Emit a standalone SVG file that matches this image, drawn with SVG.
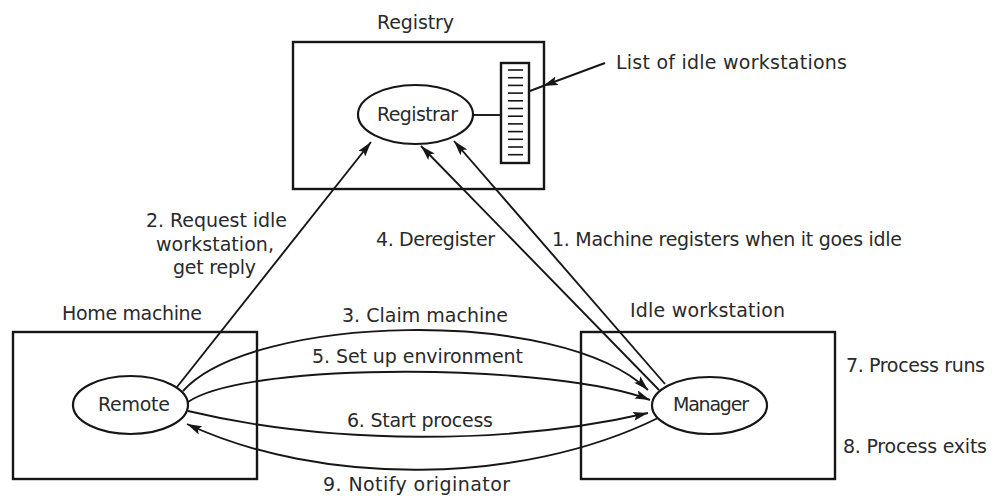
<svg xmlns="http://www.w3.org/2000/svg" width="994" height="496" viewBox="0 0 994 496">
  <defs>
    <style>
      .box { fill: none; stroke: #161616; stroke-width: 2.4; }
      .node { fill: #fff; stroke: #161616; stroke-width: 2.2; }
      .edge { fill: none; stroke: #161616; stroke-width: 1.9; }
      .rule { stroke: #161616; stroke-width: 1.6; }
      text { font-family: "DejaVu Sans", "Liberation Sans", sans-serif; font-size: 19px; fill: #2a2a2a; }
    </style>
    <marker id="head" markerUnits="userSpaceOnUse" viewBox="0 0 15 9" markerWidth="15" markerHeight="9" refX="15" refY="4.5" orient="auto">
      <path d="M0,0 L15,4.5 L0,9 L3,4.5 z" fill="#161616"/>
    </marker>
  </defs>
  <rect width="994" height="496" fill="#fff"/>

  <!-- Registry machine with the registrar process and its idle list -->
  <g id="registry">
    <rect class="box" x="293" y="42" width="251" height="147"/>
    <text x="377" y="29" textLength="77">Registry</text>
  </g>
  <g id="idle-list">
    <rect class="box" x="501" y="63" width="28" height="100"/>
    <g class="rule">
      <line x1="508" y1="70" x2="523" y2="70"/>
      <line x1="508" y1="77.7" x2="523" y2="77.7"/>
      <line x1="508" y1="85.4" x2="523" y2="85.4"/>
      <line x1="508" y1="93.1" x2="523" y2="93.1"/>
      <line x1="508" y1="100.8" x2="523" y2="100.8"/>
      <line x1="508" y1="108.5" x2="523" y2="108.5"/>
      <line x1="508" y1="116.2" x2="523" y2="116.2"/>
      <line x1="508" y1="123.9" x2="523" y2="123.9"/>
      <line x1="508" y1="131.6" x2="523" y2="131.6"/>
      <line x1="508" y1="139.3" x2="523" y2="139.3"/>
      <line x1="508" y1="147" x2="523" y2="147"/>
      <line x1="508" y1="154.7" x2="523" y2="154.7"/>
    </g>
    <text x="616" y="69" textLength="231">List of idle workstations</text>
  </g>
  <g id="registrar">
    <ellipse class="node" cx="415.5" cy="114.5" rx="57.5" ry="29.5"/>
    <text x="377" y="121" textLength="81">Registrar</text>
  </g>

  <!-- Home machine -->
  <g id="home-machine">
    <rect class="box" x="13" y="332" width="244" height="147"/>
    <text x="62" y="320" textLength="140">Home machine</text>
  </g>
  <g id="remote">
    <ellipse class="node" cx="130.5" cy="405" rx="57.5" ry="29"/>
    <text x="98" y="411" textLength="72">Remote</text>
  </g>

  <!-- Idle workstation -->
  <g id="idle-workstation">
    <rect class="box" x="581" y="332" width="254" height="147"/>
    <text x="630" y="317" textLength="155">Idle workstation</text>
    <text x="846" y="372" textLength="139">7. Process runs</text>
    <text x="843" y="453" textLength="144">8. Process exits</text>
  </g>
  <g id="manager">
    <ellipse class="node" cx="709.5" cy="405.5" rx="57.5" ry="28.5"/>
    <text x="673" y="411" textLength="76">Manager</text>
  </g>

  <!-- Connectors and their labels -->
  <g id="connectors">
    <line class="edge" x1="473" y1="115" x2="501" y2="115"/>
    <path id="list-pointer" class="edge" d="M605,63 L543,86 L530,91" marker-mid="url(#head)"/>

    <path id="step1" class="edge" d="M665,384 L454,141" marker-end="url(#head)"/>
    <path id="step2" class="edge" d="M177,387 L371,142" marker-end="url(#head)"/>
    <path id="step3" class="edge" d="M183,391 C250,315 560,305 648,390" marker-end="url(#head)"/>
    <path id="step4" class="edge" d="M659,390 L421,146" marker-end="url(#head)"/>
    <path id="step5" class="edge" d="M188,402 C250,360 560,364 650,400" marker-end="url(#head)"/>
    <path id="step6" class="edge" d="M188,411 C330,445 510,445 648,413" marker-end="url(#head)"/>
    <path id="step9" class="edge" d="M658,418 C520,486 320,486 187,424" marker-end="url(#head)"/>

    <text x="146" y="227" textLength="141">2. Request idle</text>
    <text x="156" y="251" textLength="118">workstation,</text>
    <text x="173" y="274" textLength="83">get reply</text>
    <text x="376" y="246" textLength="119">4. Deregister</text>
    <text x="552" y="246" textLength="350">1. Machine registers when it goes idle</text>
    <text x="342" y="322" textLength="166">3. Claim machine</text>
    <text x="312" y="363" textLength="211">5. Set up environment</text>
    <text x="347" y="427" textLength="146">6. Start process</text>
    <text x="323" y="491" textLength="187">9. Notify originator</text>
  </g>
</svg>
